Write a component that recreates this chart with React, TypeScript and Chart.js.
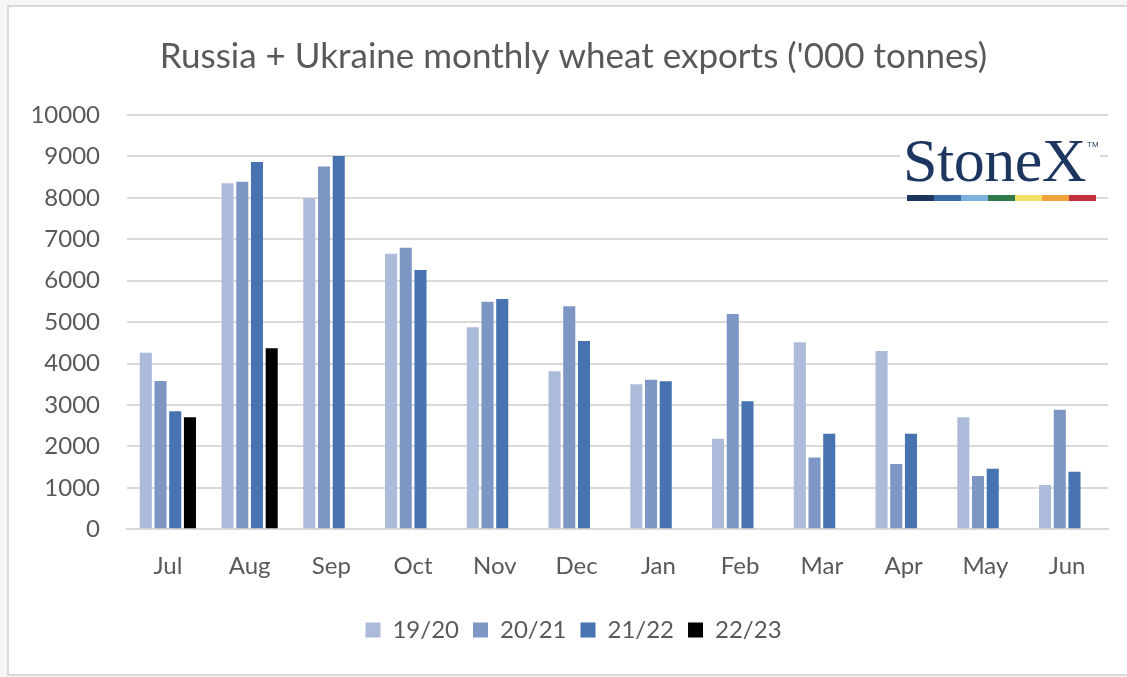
import React, { useEffect, useRef } from "react";
import { Chart, registerables } from "chart.js";

Chart.register(...registerables);

const months = ["Jul", "Aug", "Sep", "Oct", "Nov", "Dec", "Jan", "Feb", "Mar", "Apr", "May", "Jun"];
const season1920 = [4260, 8350, 7990, 6650, 4875, 3815, 3500, 2185, 4515, 4300, 2700, 1070];
const season2021 = [3580, 8390, 8755, 6795, 5490, 5380, 3610, 5195, 1730, 1575, 1285, 2885];
const season2122 = [2845, 8865, 9010, 6260, 5560, 4545, 3570, 3090, 2305, 2305, 1460, 1390];
const season2223: (number | null)[] = [2700, 4370, null, null, null, null, null, null, null, null, null, null];
const seriesLabels = ["19/20", "20/21", "21/22", "22/23"];
const seriesColors = ["#adbbdb", "#7d96c4", "#4773b0", "#000000"];
const titleText = "Russia + Ukraine monthly wheat exports ('000 tonnes)";
const logoColors = ["#1c365f", "#3a6aa6", "#7cb1de", "#2e7a4c", "#f1e265", "#f1a23a", "#c4303b"];

const FONT = "Lato, 'Open Sans', sans-serif";

export default function App() {
  const canvasRef = useRef<HTMLCanvasElement | null>(null);

  useEffect(() => {
    if (!canvasRef.current) return;
    const chart = new Chart(canvasRef.current, {
      type: "bar",
      data: {
        labels: months,
        datasets: [season1920, season2021, season2122, season2223].map((d, i) => ({
          label: seriesLabels[i],
          data: d,
          backgroundColor: seriesColors[i],
          borderWidth: 0,
          categoryPercentage: 0.72,
          barPercentage: 0.82,
        })),
      },
      options: {
        animation: false,
        responsive: false,
        maintainAspectRatio: false,
        layout: { padding: { left: 20, right: 0, top: 0, bottom: 25 } },
        plugins: {
          title: {
            display: true,
            text: titleText,
            color: "#595959",
            font: { family: FONT, size: 35, weight: "normal" },
            padding: { top: 36, bottom: 37 },
          },
          legend: {
            position: "bottom",
            labels: {
              color: "#595959",
              font: { family: FONT, size: 24 },
              boxWidth: 15,
              boxHeight: 15,
              padding: 14,
            },
          },
          tooltip: { enabled: false },
        },
        scales: {
          x: {
            grid: { display: false, drawTicks: false },
            border: { display: true, color: "#d9d9d9", width: 2 },
            ticks: { color: "#595959", font: { family: FONT, size: 24 }, padding: 23 },
          },
          y: {
            min: 0,
            max: 10000,
            afterFit: (scale: any) => {
              scale.width = 107;
            },
            grid: { color: "#d9d9d9", lineWidth: 2, drawTicks: false },
            border: { display: false },
            ticks: {
              stepSize: 1000,
              color: "#595959",
              font: { family: FONT, size: 24 },
              padding: 27,
              callback: (v: any) => String(v),
            },
          },
          yRight: {
            position: "right",
            display: true,
            min: 0,
            max: 10000,
            afterFit: (scale: any) => {
              scale.width = 19;
            },
            grid: { display: false, drawTicks: false },
            border: { display: false },
            ticks: { display: false },
          },
        },
      },
    });
    return () => chart.destroy();
  }, []);

  return (
    <div style={{ position: "fixed", left: 0, top: 0, width: 1127, height: 677, background: "#f6f6f6", overflow: "hidden" }}>
      <div
        style={{
          position: "absolute",
          left: 7,
          top: 5,
          width: 1140,
          height: 667,
          background: "#ffffff",
          borderLeft: "2px solid #d9d9d9",
          borderTop: "2px solid #d9d9d9",
          borderBottom: "2px solid #d9d9d9",
        }}
      />
      <canvas ref={canvasRef} width={1127} height={677} style={{ position: "absolute", left: 0, top: 0 }} />
      <div style={{ position: "absolute", left: 900, top: 130, width: 200, height: 60, background: "#ffffff" }} />
      <div
        style={{
          position: "absolute",
          left: 903,
          top: 126,
          fontFamily: "'Liberation Serif', 'DejaVu Serif', serif",
          fontSize: 62,
          lineHeight: "68px",
          color: "#1c365f",
          letterSpacing: -0.5,
        }}
      >
        StoneX
      </div>
      <div
        style={{
          position: "absolute",
          left: 1087,
          top: 140,
          fontFamily: "'Liberation Sans', sans-serif",
          fontSize: 8,
          color: "#1c365f",
        }}
      >
        TM
      </div>
      <div style={{ position: "absolute", left: 907, top: 195, display: "flex" }}>
        {logoColors.map((c) => (
          <div key={c} style={{ width: 27, height: 6, background: c }} />
        ))}
      </div>
    </div>
  );
}
